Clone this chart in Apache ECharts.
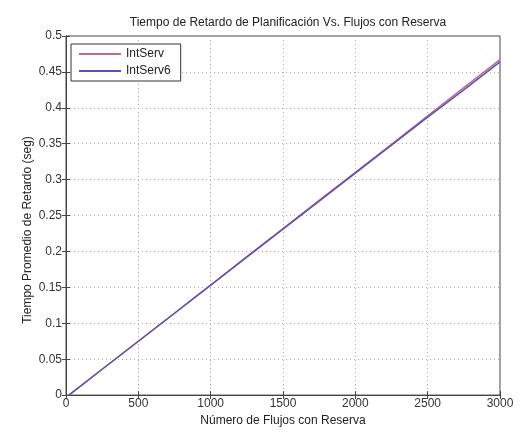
<!DOCTYPE html>
<html>
<head>
<meta charset="utf-8">
<script src="https://cdn.jsdelivr.net/npm/echarts@6/dist/echarts.min.js"></script>
<style>html,body{margin:0;padding:0;background:#fff;}#c{width:529px;height:432px;}</style>
</head>
<body>
<div id="c"></div>
<script>
const titleText = 'Tiempo de Retardo de Planificación Vs. Flujos con Reserva';
const xName = 'Número de Flujos con Reserva';
const yName = 'Tiempo Promedio de Retardo (seg)';
const seriesNames = ['IntServ', 'IntServ6'];
const flows = [20, 250, 500, 750, 1000, 1250, 1500, 1750, 2000, 2250, 2500, 2750, 3000];
const intserv = [0, 0.036, 0.075, 0.114, 0.153, 0.193, 0.232, 0.271, 0.310, 0.349, 0.389, 0.428, 0.467];
const intserv6 = [0, 0.036, 0.075, 0.114, 0.153, 0.192, 0.231, 0.270, 0.309, 0.348, 0.387, 0.425, 0.464];

const font = 'Liberation Sans, Arial, sans-serif';
const axisCol = '#444';
const chart = echarts.init(document.getElementById('c'), null, {renderer: 'canvas'});
const pair = (xs, ys) => xs.map((x, i) => [x, ys[i]]);
const baseX = {type: 'value', min: 0, max: 3000, interval: 500};
const baseY = {type: 'value', min: 0, max: 0.5, interval: 0.05};
chart.setOption({
  animation: false,
  backgroundColor: '#fff',
  title: {text: titleText, left: 283, top: 12, textAlign: 'center',
    textStyle: {fontFamily: font, fontSize: 12, fontWeight: 'normal', color: '#222'}},
  grid: {left: 66, right: 29, top: 36, bottom: 35, show: true, borderColor: axisCol, borderWidth: 1},
  graphic: [{
    type: 'text', x: 28, y: 230, rotation: Math.PI / 2,
    style: {text: yName, font: '12px ' + font, fill: '#222', align: 'center', verticalAlign: 'middle'}
  }],
  legend: {
    left: 71, top: 44, orient: 'vertical', itemGap: 3, itemWidth: 42, itemHeight: 2,
    icon: 'path://M0,0 L42,0 L42,2 L0,2 Z',
    padding: [3, 10, 3, 8], borderColor: '#333', borderWidth: 1, backgroundColor: '#fff',
    textStyle: {fontFamily: font, fontSize: 12, color: '#222', lineHeight: 14},
    data: seriesNames
  },
  xAxis: [
    Object.assign({}, baseX, {
      name: xName, nameLocation: 'middle', nameGap: 19,
      nameTextStyle: {fontFamily: font, fontSize: 12, color: '#222'},
      axisLine: {show: true, lineStyle: {color: axisCol}},
      axisTick: {show: true, inside: true, length: 4, lineStyle: {color: axisCol}},
      axisLabel: {fontFamily: font, fontSize: 12, color: '#333', margin: 3, formatter: v => String(v)},
      splitLine: {show: true, lineStyle: {color: '#aaa', type: [1, 3], width: 1}}
    }),
    Object.assign({}, baseX, {
      position: 'top',
      axisLine: {show: true, lineStyle: {color: axisCol}},
      axisTick: {show: true, inside: true, length: 4, lineStyle: {color: axisCol}},
      axisLabel: {show: false}, splitLine: {show: false}
    })
  ],
  yAxis: [
    Object.assign({}, baseY, {
      axisLine: {show: true, lineStyle: {color: axisCol}},
      axisTick: {show: true, inside: true, length: 4, lineStyle: {color: axisCol}},
      axisLabel: {fontFamily: font, fontSize: 12, color: '#333', margin: 4},
      splitLine: {show: true, lineStyle: {color: '#aaa', type: [1, 3], width: 1}}
    }),
    Object.assign({}, baseY, {
      position: 'right',
      axisLine: {show: true, lineStyle: {color: axisCol}},
      axisTick: {show: true, inside: true, length: 4, lineStyle: {color: axisCol}},
      axisLabel: {show: false}, splitLine: {show: false}
    })
  ],
  series: [
    {name: seriesNames[0], type: 'line', symbol: 'none', data: pair(flows, intserv),
      lineStyle: {color: '#c06a85', width: 1.5}, itemStyle: {color: '#c06a85'}},
    {name: seriesNames[1], type: 'line', symbol: 'none', data: pair(flows, intserv6),
      lineStyle: {color: '#5a50b8', width: 1.5}, itemStyle: {color: '#5a50b8'}}
  ]
});
</script>
</body>
</html>
